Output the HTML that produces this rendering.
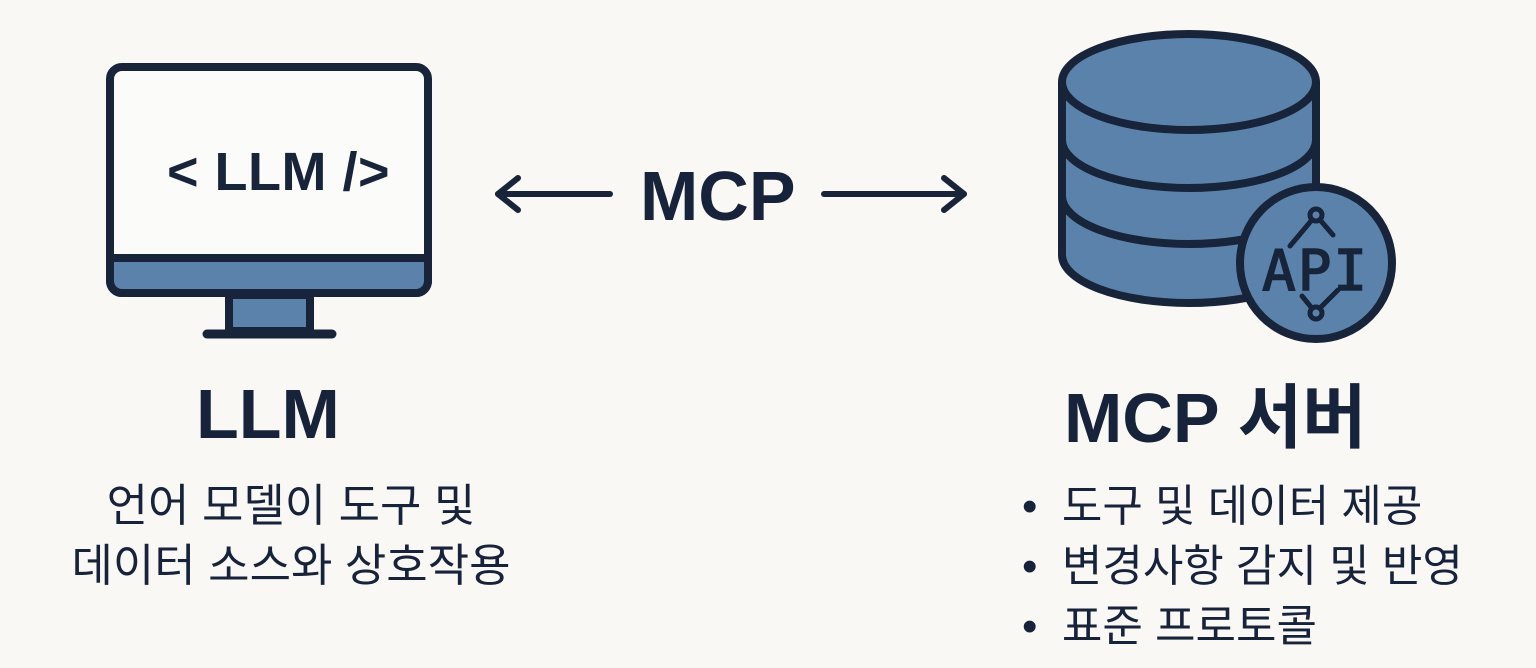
<!DOCTYPE html>
<html><head><meta charset="utf-8"><style>
html,body{margin:0;padding:0;background:#f9f8f5;}
body{width:1536px;height:668px;position:relative;overflow:hidden;font-family:"Liberation Sans","Noto Sans CJK KR",sans-serif;color:#17233a;}
.t{position:absolute;white-space:nowrap;}
</style></head><body>
<svg width="1536" height="668" style="position:absolute;left:0;top:0">
<g stroke="#17243a" stroke-width="8" stroke-linejoin="round" stroke-linecap="round">
<rect x="110" y="67" width="318" height="226" rx="12" fill="#fbfbf9"/>
<path d="M110 258 H428 V281 a12 12 0 0 1 -12 12 H122 a12 12 0 0 1 -12 -12 Z" fill="#5b82ab"/>
<rect x="229" y="295" width="81" height="36" fill="#5b82ab"/>
<line x1="207" y1="334" x2="332" y2="334" stroke-width="9"/>
</g>
<text x="167" y="190" font-family="Liberation Sans, sans-serif" font-size="54" font-weight="bold" letter-spacing="0.5" fill="#17243a">&lt; LLM /&gt;</text>
<g stroke="#17243a" stroke-width="6" fill="none" stroke-linecap="round" stroke-linejoin="round">
<line x1="498" y1="194" x2="610" y2="194"/><polyline points="518,178 498,194 518,210"/>
<line x1="824" y1="194" x2="964" y2="194"/><polyline points="944,178 964,194 944,210"/>
</g>
<g stroke="#17243a" stroke-width="8" fill="#5b82ab">
<path d="M1062 82 V255 A127 48 0 0 0 1316 255 V82"/>
<path d="M1062 196 A127 48 0 0 0 1316 196" fill="none"/>
<path d="M1062 140 A127 48 0 0 0 1316 140" fill="none"/>
<ellipse cx="1189" cy="82" rx="127" ry="48"/>
<circle cx="1316" cy="263" r="76"/>
</g>
<g stroke="#17243a" stroke-width="5" fill="none" stroke-linecap="round">
<circle cx="1316" cy="215" r="6"/><circle cx="1316" cy="313" r="6"/>
<path d="M1311 221 L1290 246 M1321 221 L1333 235 M1311 307 L1302 296 M1321 307 L1338 290"/>
</g>
<text x="1262" y="290" font-family="DejaVu Sans Mono, monospace" font-size="56" letter-spacing="2" fill="#17243a" stroke="#17243a" stroke-width="1.5">API</text>
</svg>
<div class="t" style="left:640px;top:156px;font-size:70px;font-weight:bold;">MCP</div>
<div class="t" style="left:196px;top:374px;font-size:70px;font-weight:bold;">LLM</div>
<div class="t" style="left:0;width:582px;text-align:center;top:476px;font-size:45px;line-height:60px;">언어 모델이 도구 및<br>데이터 소스와 상호작용</div>
<div class="t" style="left:1064px;top:362px;font-size:70px;font-weight:bold;">MCP 서버</div>
<div class="t" style="left:1022px;top:477px;font-size:44px;line-height:60px;">•&nbsp; 도구 및 데이터 제공<br>•&nbsp; 변경사항 감지 및 반영<br>•&nbsp; 표준 프로토콜</div>
</body></html>
